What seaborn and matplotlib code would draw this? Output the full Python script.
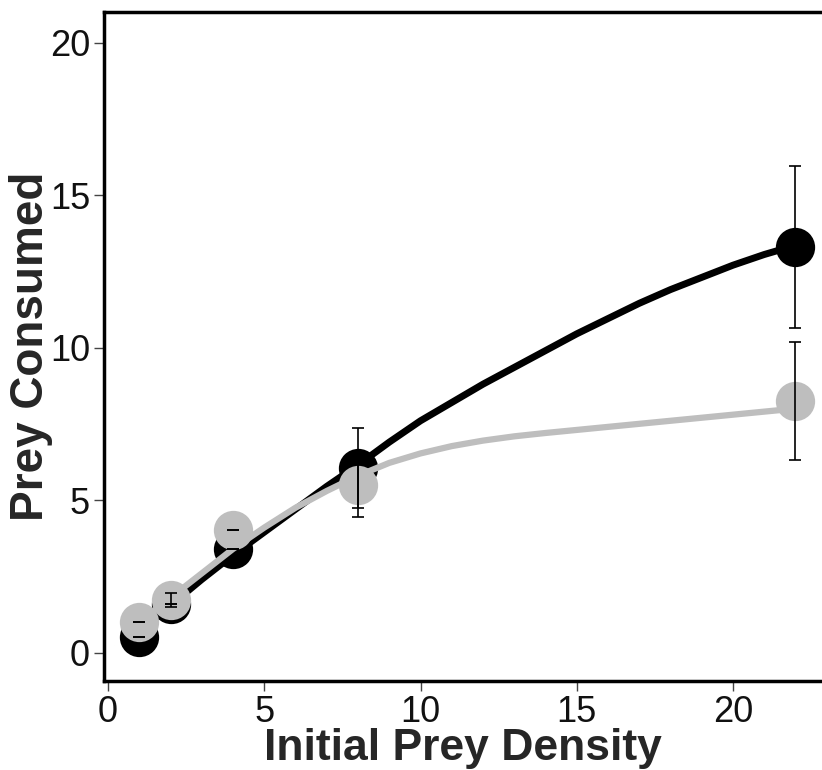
import numpy as np
import pandas as pd
import matplotlib
matplotlib.use('Agg')
import matplotlib.pyplot as plt
import seaborn as sns

density = [1, 2, 4, 8, 22]
black_mean = [0.52, 1.6, 3.4, 6.05, 13.3]
black_err = [0.0, 0.0, 0.0, 1.32, 2.65]
gray_mean = [1.02, 1.73, 4.02, 5.5, 8.25]
gray_err = [0.0, 0.23, 0.0, 1.05, 1.93]

# fitted curves
curve_x = list(range(1, 23))
black_fit = [0.7, 1.55, 2.4, 3.2, 3.95, 4.7, 5.45, 6.15, 6.9, 7.6, 8.2, 8.8, 9.35,
             9.9, 10.45, 10.95, 11.45, 11.9, 12.3, 12.7, 13.05, 13.35]
gray_fit = [1.0, 1.8, 2.6, 3.4, 4.1, 4.75, 5.3, 5.8, 6.22, 6.53, 6.77, 6.95, 7.09,
            7.2, 7.3, 7.4, 7.5, 7.6, 7.7, 7.8, 7.9, 8.0]

GRAY = '#bebebe'

sns.set_style('ticks')
plt.rcParams['font.family'] = ['Liberation Sans', 'DejaVu Sans']

fig = plt.figure(figsize=(8.22, 7.70), dpi=100)
ax = fig.add_axes([104 / 822, 89 / 770, 1 - 104 / 822, 669 / 770])

fits = pd.DataFrame({'x': curve_x, 'black': black_fit, 'gray': gray_fit})
pts = pd.DataFrame({'x': density, 'black': black_mean, 'gray': gray_mean})

# black series first, gray drawn on top
sns.lineplot(data=fits, x='x', y='black', color='black', lw=5, ax=ax, zorder=2)
sns.scatterplot(data=pts, x='x', y='black', color='black', s=800, linewidth=0, ax=ax, zorder=3)
sns.lineplot(data=fits, x='x', y='gray', color=GRAY, lw=4.5, ax=ax, zorder=4)
sns.scatterplot(data=pts, x='x', y='gray', color=GRAY, s=800, linewidth=0, ax=ax, zorder=5)

ax.errorbar(density, black_mean, yerr=black_err, fmt='none', ecolor='black',
            elinewidth=1.2, capsize=4, capthick=1.2, zorder=6)
ax.errorbar(density, gray_mean, yerr=gray_err, fmt='none', ecolor='black',
            elinewidth=1.2, capsize=4, capthick=1.2, zorder=6)

ax.set_xlim(-0.13, 22.85)
ax.set_ylim(-0.93, 21.0)
ax.set_xticks([0, 5, 10, 15, 20])
ax.set_yticks([0, 5, 10, 15, 20])

for side in ['left', 'bottom', 'top']:
    ax.spines[side].set_linewidth(2.5)
    ax.spines[side].set_color('black')
ax.spines['right'].set_visible(False)

ax.tick_params(direction='out', length=7, width=1, colors='#444444',
               labelsize=26, labelcolor='#111111', pad=3)

ax.set_xlabel('Initial Prey Density', fontsize=32, fontweight='bold', labelpad=-1.5)
ax.set_ylabel('Prey Consumed', fontsize=33, fontweight='bold', labelpad=-2)

fig.savefig('out.png', dpi=100)
